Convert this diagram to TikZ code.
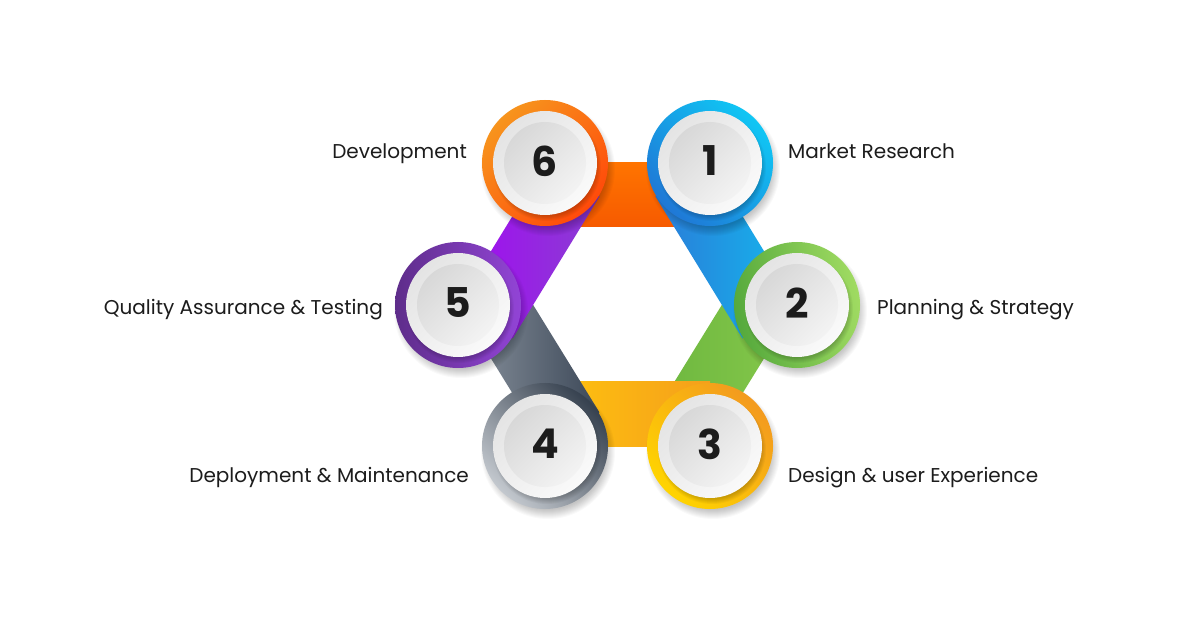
\documentclass[tikz,border=0pt]{standalone}
\usepackage{fontspec}
\setmainfont{Poppins}
\usetikzlibrary{calc}
\definecolor{txt}{HTML}{1C1C1C}
\definecolor{oA}{HTML}{F7941D}\definecolor{oB}{HTML}{FF4A0A}
\definecolor{bA}{HTML}{10C6F4}\definecolor{bB}{HTML}{1F78D6}
\definecolor{gA}{HTML}{A0DB62}\definecolor{gB}{HTML}{55A93C}
\definecolor{yA}{HTML}{F39A1F}\definecolor{yB}{HTML}{FFD400}
\definecolor{sA}{HTML}{36414F}\definecolor{sB}{HTML}{C3C8CE}
\definecolor{pA}{HTML}{9244D6}\definecolor{pB}{HTML}{5E2D8A}
\definecolor{wA}{HTML}{FAFAFA}\definecolor{wB}{HTML}{E4E4E4}
\definecolor{iA}{HTML}{D8D8D8}\definecolor{iB}{HTML}{F3F3F3}
\definecolor{bgA}{HTML}{6DB73F}\definecolor{bgB}{HTML}{86C84B}
\definecolor{boA}{HTML}{FF7400}\definecolor{boB}{HTML}{F65A00}
\definecolor{byA}{HTML}{FFC40E}\definecolor{byB}{HTML}{F59F1B}
\definecolor{bsA}{HTML}{8B949F}\definecolor{bsB}{HTML}{3C4858}
\definecolor{bpA}{HTML}{A20AF2}\definecolor{bpB}{HTML}{8A3ED2}
\definecolor{bbA}{HTML}{2A7CD8}\definecolor{bbB}{HTML}{14B8EE}
\tikzset{
  label/.style={font=\fontsize{20}{24}\selectfont, text=txt, inner sep=0pt},
  num/.style={font=\fontsize{41}{45}\selectfont\bfseries, text=txt, inner sep=0pt},
}
\newcommand\ringcirc[4]{% center, top color, bottom color, angle
  \foreach \k in {0,...,9} \fill[black,opacity=0.025] ($(#1)+(3,6)$) circle[radius=58pt+\k pt];
  \shade[top color=#2,bottom color=#3,shading angle=#4] (#1) circle[radius=63pt];
  \foreach \k in {0,...,5} \fill[black,opacity=0.035] ($(#1)+(2,4)$) circle[radius=49pt+\k pt];
  \shade[top color=wA,bottom color=wB,shading angle=-135] (#1) circle[radius=52pt];
  \shade[top color=iA,bottom color=iB,shading angle=45] (#1) circle[radius=41pt];
}
\begin{document}
\begin{tikzpicture}[x=1pt,y=-1pt]
\useasboundingbox (0,0) rectangle (1200,628);
\fill[white] (0,0) rectangle (1200,628);
\coordinate (V6) at (545,163);
\coordinate (V1) at (710,163);
\coordinate (V2) at (797,305);
\coordinate (V3) at (710,446);
\coordinate (V4) at (545,446);
\coordinate (V5) at (458,305);
% bands (drawing order gives the overlaps)
\shade[left color=bgA,right color=bgB] (V2) -- (V3) -- ($(V3)!64pt!90:(V2)$) -- ($(V2)!64pt!-90:(V3)$) -- cycle;
\shade[top color=boA,bottom color=boB] (V6) -- (V1) -- ($(V1)!64pt!90:(V6)$) -- ($(V6)!64pt!-90:(V1)$) -- cycle;
\shade[left color=byA,right color=byB] (V3) -- (V4) -- ($(V4)!64pt!90:(V3)$) -- ($(V3)!64pt!-90:(V4)$) -- cycle;
\shade[left color=bsA,right color=bsB] (V4) -- (V5) -- ($(V5)!64pt!90:(V4)$) -- ($(V4)!64pt!-90:(V5)$) -- cycle;
\shade[left color=bpA,right color=bpB] (V5) -- (V6) -- ($(V6)!64pt!90:(V5)$) -- ($(V5)!64pt!-90:(V6)$) -- cycle;
\shade[left color=bbA,right color=bbB] (V1) -- (V2) -- ($(V2)!64pt!90:(V1)$) -- ($(V1)!64pt!-90:(V2)$) -- cycle;
% circles
\ringcirc{V6}{oA}{oB}{45}
\ringcirc{V1}{bA}{bB}{-45}
\ringcirc{V2}{gA}{gB}{-80}
\ringcirc{V3}{yA}{yB}{-45}
\ringcirc{V4}{sA}{sB}{-45}
\ringcirc{V5}{pA}{pB}{-90}
% numbers
\node[num] (n6) at ($(V6)+(0,-2)$) {6};
\node[num] (n1) at ($(V1)+(0,-2)$) {1};
\node[num] (n2) at ($(V2)+(0,-2)$) {2};
\node[num] (n3) at ($(V3)+(0,-2)$) {3};
\node[num] (n4) at ($(V4)+(0,-2)$) {4};
\node[num] (n5) at ($(V5)+(0,-2)$) {5};
% labels
\node[label,anchor=base east] (l6) at (467,159) {Development};
\node[label,anchor=base west] (l1) at (788,159) {Market Research};
\node[label,anchor=base east] (l5) at (383,315) {Quality Assurance \& Testing};
\node[label,anchor=base west] (l2) at (877,315) {Planning \& Strategy};
\node[label,anchor=base east] (l4) at (469,482) {Deployment \& Maintenance};
\node[label,anchor=base west] (l3) at (788,482) {Design \& user Experience};
\end{tikzpicture}
\end{document}
